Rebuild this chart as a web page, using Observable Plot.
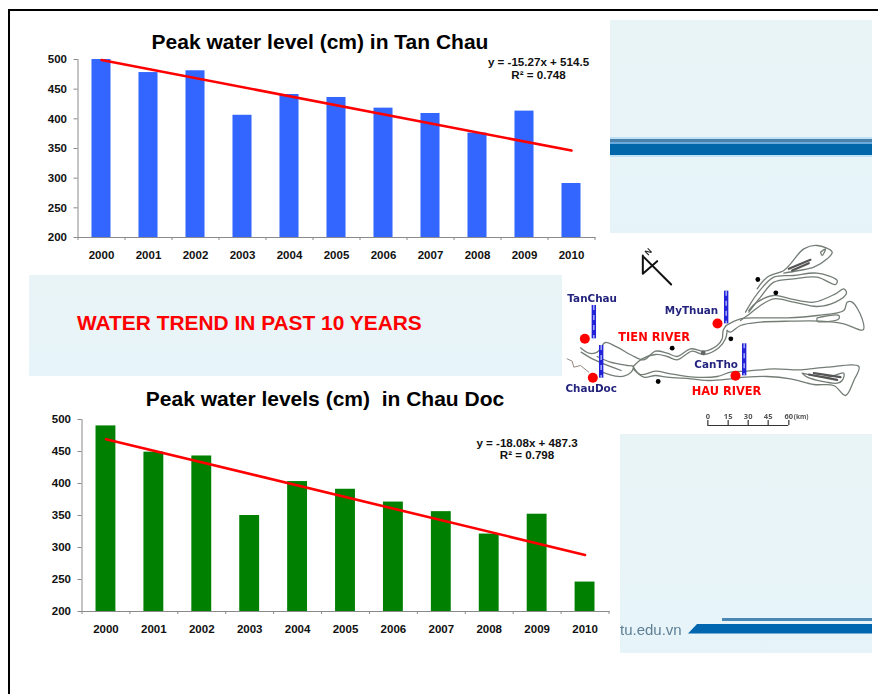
<!DOCTYPE html>
<html>
<head>
<meta charset="utf-8">
<script src="https://cdn.jsdelivr.net/npm/d3@7"></script>
<script src="https://cdn.jsdelivr.net/npm/@observablehq/plot@0.6"></script>
<style>
  html, body { margin: 0; padding: 0; background: #fff; }
  #page { position: relative; width: 878px; height: 694px; overflow: hidden; font-family: "Liberation Sans", Arial, sans-serif; }
  #page > * { position: absolute; }
  .frame-top { left: 8px; right: 0; top: 9px; height: 2px; background: #000; }
  .frame-left { left: 8px; top: 9px; bottom: 0; width: 2px; background: #000; }
  .panel { background: linear-gradient(#e8f4f6, #e8f4f7 60%, #e6f4fa); }
  .title { font-weight: bold; font-size: 21px; color: #000; white-space: pre; transform: translateX(-50%); line-height: 1; }
  .fit { font-weight: bold; font-size: 11.6px; color: #111; white-space: pre; transform: translateX(-50%); line-height: 12.5px; text-align: center; }
  .banner { font-weight: bold; font-size: 20.9px; color: #f00; white-space: pre; line-height: 1; }
  .s { position: absolute; }
  .site { font-size: 15px; color: #5f7f95; filter: blur(.5px); white-space: pre; line-height: 1; }
  svg { display: block; }
</style>
</head>
<body>
<div id="page">
  <div class="frame-top"></div>
  <div class="frame-left"></div>

  <div class="panel" style="left:610px;top:20px;width:262px;height:213px">
    <div class="s" style="left:0;right:0;top:117px;height:20px;background:#bfe0f5"></div>
    <div class="s" style="left:0;right:0;top:119px;height:2.5px;background:#4a80ac"></div>
    <div class="s" style="left:0;right:0;top:121.5px;height:2.5px;background:#6aa9dc"></div>
    <div class="s" style="left:0;right:0;top:124px;height:11px;background:#0066aa"></div>
  </div>

  <div class="panel" style="left:29px;top:275px;width:533px;height:101px"></div>
  <div class="banner" style="left:77px;top:312.5px">WATER TREND IN PAST 10 YEARS</div>

  <div class="panel" style="left:620px;top:434px;width:252px;height:219px">
    <div class="s site" style="left:0;top:187.5px">tu.edu.vn</div>
    <div class="s" style="left:102px;right:0;top:184px;height:3px;background:#4a87b5;filter:blur(.4px)"></div>
    <div class="s" style="left:68px;right:0;top:190px;height:9.5px;background:#0066b0;clip-path:polygon(9px 0,100% 0,100% 100%,0 100%);filter:blur(.3px)"></div>
  </div>

  <div id="chart-tan" style="left:0;top:30px"></div>
  <div id="chart-doc" style="left:0;top:390px"></div>
  <div id="map" style="left:560px;top:230px"></div>

  <div class="title" style="left:320px;top:30.5px">Peak water level (cm) in Tan Chau</div>
  <div class="title" style="left:325px;top:387.5px">Peak water levels (cm)  in Chau Doc</div>
  <div class="fit" style="left:538.5px;top:56px" id="fit-tan"></div>
  <div class="fit" style="left:527px;top:437px;line-height:12px" id="fit-doc"></div>
</div>

<script>
// Peak annual water levels (cm) at the two upstream Mekong gauges
const years = [2000, 2001, 2002, 2003, 2004, 2005, 2006, 2007, 2008, 2009, 2010];
const tanChauPeak = [500, 478, 481, 406, 441, 436, 418, 409, 376, 413, 291];
const chauDocPeak = [490, 449, 443, 350, 403, 391, 371, 356, 321, 352, 246];
const yTicks = [200, 250, 300, 350, 400, 450, 500];

// Published fits: y = slope * x + intercept, x counted from 1 in 2000
const tanChauFit = { slope: -15.27, intercept: 514.5, r2: "0.748" };
const chauDocFit = { slope: -18.08, intercept: 487.3, r2: "0.798" };

// Schematic of the delta, in map grid units
const tienUpper = [[125,345],[135,336],[170,350],[215,375],[250,388],[285,362],[320,368],[350,378],[390,355],[430,362],[470,345],[485,325],[488,300],[497,285]];
const tienLower = [[218,408],[245,385],[285,372],[320,378],[350,388],[395,362],[430,372],[475,352],[495,325],[500,300]];
const westArmUpper = [[60,352],[85,368],[110,365],[125,345]];
const westArmLower = [[62,365],[90,382],[130,400],[182,420]];
const linkCanal = [[110,378],[150,395],[200,405],[218,408],[212,425],[190,437],[165,437],[125,425]];
const hauOutline = [[218,408],[240,432],[285,422],[330,430],[400,440],[470,438],[510,425],[560,422],[640,415],[720,418],[800,410],[895,408],[880,450],[855,495],[820,465],[760,462],[690,445],[620,438],[555,440],[510,445],[450,450],[390,445],[320,440],[285,435],[250,440],[218,415]];
const hauIsland = [[725,428],[800,440],[850,428],[845,450],[830,458],[740,440],[725,428]];
const hauReeds = [[745,432],[830,448]];
const hauReeds2 = [[760,428],[840,440]];
const hamLuong = [[497,285],[540,265],[600,262],[680,262],[770,255],[850,240],[860,215],[875,215],[905,265],[908,298],[850,280],[780,272],[690,272],[600,275],[540,285],[510,305],[500,300]];
const hamLuongIsland = [[770,262],[835,255],[835,265],[770,272],[770,262]];
const coChien = [[565,240],[590,215],[640,195],[690,205],[760,215],[825,190],[850,175],[858,188],[825,215],[770,228],[700,215],[640,205],[600,225],[570,248],[540,270]];
const myTho = [[555,245],[590,190],[640,140],[700,135],[770,128],[830,150],[825,162],[770,140],[700,145],[640,155],[600,200],[565,245]];
const baLai = [[590,175],[620,140],[670,120],[690,100],[730,55],[770,45],[815,65],[800,85],[760,110],[715,120],[670,128]];
const baLaiLoop = [[780,65],[795,55],[785,75],[780,65]];
const baLaiReeds = [[685,115],[750,88]];
const baLaiReeds2 = [[695,120],[745,98]];
const borderStream = [[20,385],[35,392],[40,410],[60,405],[85,425]];
const riverPaths = [tienUpper, tienLower, westArmUpper, westArmLower, linkCanal, hauOutline, hauIsland, hamLuong, hamLuongIsland, coChien, myTho, baLai, baLaiLoop];
const reedPaths = [hauReeds, hauReeds2, baLaiReeds, baLaiReeds2];

const towns = [
  { name: "TanChau", x: 73, y: 325, lx: 95, ly: 205, bar: [100, 225, 325] },
  { name: "ChauDoc", x: 97, y: 442, lx: 92, ly: 475, bar: [122, 345, 443] },
  { name: "MyThuan", x: 471, y: 279, lx: 393, ly: 240, bar: [497, 182, 280] },
  { name: "CanTho", x: 525, y: 436, lx: 467, ly: 403, bar: [551, 340, 436] }
];
const riverNames = [{ name: "TIEN RIVER", x: 281, y: 320 }, { name: "HAU RIVER", x: 498, y: 482 }];
const cityDots = [[592,147],[646,187],[511,325],[335,353],[293,453]];
const grayDot = [[428,367]];
const northArrow = [[247,75],[247,130],[290,92]];
const northShaft = [[250,80],[332,162]];
const scaleKm = [0, 15, 30, 45, 60];
const scalePos = [442, 503, 563, 623, 685];

function trendLine(fit) {
  const n = years.length;
  return [
    { year: years[0], v: fit.slope * 1 + fit.intercept },
    { year: years[n - 1], v: fit.slope * n + fit.intercept }
  ];
}

function peakChart(el, values, fit, color, g) {
  const step = g.plotW / years.length;
  const rows = years.map((year, i) => ({ year, v: values[i] }));
  const tickDepth = 3 * 300 / g.plotH;
  const plot = Plot.plot({
    width: g.left + g.plotW + 8,
    height: g.top + g.plotH + 30,
    marginLeft: g.left,
    marginRight: 8,
    marginTop: g.top,
    marginBottom: 30,
    style: { background: "transparent", fontFamily: "'Liberation Sans', Arial, sans-serif" },
    x: { type: "band", domain: years, paddingInner: g.pad, paddingOuter: g.pad / 2, round: false, axis: null },
    y: { domain: [200, 500], axis: null },
    marks: [
      Plot.barY(rows, { x: "year", y1: 200, y2: "v", fill: color }),
      Plot.frame({ anchor: "left", stroke: "#8a8a8a" }),
      Plot.frame({ anchor: "bottom", stroke: "#8a8a8a" }),
      Plot.ruleX(years, { x: d => d, y1: 200, y2: 200 - tickDepth, dx: -step / 2, stroke: "#8a8a8a" }),
      Plot.ruleX(years.slice(-1), { x: d => d, y1: 200, y2: 200 - tickDepth, dx: step / 2, stroke: "#8a8a8a" }),
      Plot.axisY({ ticks: yTicks, tickSize: 4, tickPadding: 7, stroke: "#8a8a8a", color: "#111", fontSize: 11.5, fontWeight: "bold", label: null }),
      Plot.text(rows, { x: "year", text: d => String(d.year), frameAnchor: "bottom", dy: g.labelDy, fontSize: 11.5, fontWeight: "bold", fill: "#111" }),
      Plot.line(trendLine(fit), { x: "year", y: "v", stroke: "#f00", strokeWidth: 2.6 })
    ]
  });
  document.getElementById(el).append(plot);
}

peakChart("chart-tan", tanChauPeak, tanChauFit, "#3366ff", { left: 77.5, top: 29, plotW: 517, plotH: 178, pad: 0.595, labelDy: 21 });
peakChart("chart-doc", chauDocPeak, chauDocFit, "#008000", { left: 81.5, top: 29, plotW: 527, plotH: 192, pad: 0.585, labelDy: 21 });

document.getElementById("fit-tan").innerText = `y = ${tanChauFit.slope}x + ${tanChauFit.intercept}\nR² = ${tanChauFit.r2}`;
document.getElementById("fit-doc").innerText = `y = ${chauDocFit.slope}x + ${chauDocFit.intercept}\nR² = ${chauDocFit.r2}`;

// Delta map: grid units run 954 across and 630 down
const px = d => d[0], py = d => d[1];
const bars = towns.map(t => ({ x: t.bar[0], y1: t.bar[1], y2: t.bar[2] }));
const map = Plot.plot({
  width: 318,
  height: 210,
  margin: 0,
  style: { background: "transparent", overflow: "visible", filter: "blur(0.35px)" },
  x: { domain: [0, 954], axis: null },
  y: { domain: [630, 0], axis: null },
  marks: [
    ...riverPaths.map(p => Plot.line(p, { x: px, y: py, curve: "catmull-rom", stroke: "#737d75", strokeWidth: 1.3 })),
    ...reedPaths.map(p => Plot.line(p, { x: px, y: py, stroke: "#555", strokeWidth: 2.2 })),
    Plot.line(borderStream, { x: px, y: py, stroke: "#8a7a72", strokeWidth: 0.9 }),
    Plot.ruleX(bars, { x: "x", y1: "y1", y2: "y2", stroke: "#2222d8", strokeWidth: 4.4 }),
    Plot.ruleX(bars, { x: "x", y1: "y1", y2: "y2", stroke: "#c8d0ff", strokeWidth: 1.2, strokeDasharray: "5,5" }),
    Plot.dot(towns, { x: "x", y: "y", r: 5, fill: "#f00" }),
    Plot.dot(cityDots, { x: px, y: py, r: 2.4, fill: "#000" }),
    Plot.dot(grayDot, { x: px, y: py, r: 2.4, fill: "#666" }),
    Plot.text(towns, { x: "lx", y: "ly", text: "name", fill: "#24247e", fontFamily: "'DejaVu Sans'", fontWeight: "bold", fontSize: 10.4, letterSpacing: 0.8 }),
    Plot.text(riverNames, { x: "x", y: "y", text: "name", fill: "#f00", fontFamily: "'DejaVu Sans'", fontWeight: "bold", fontSize: 11.4 }),
    Plot.line(northArrow, { x: px, y: py, stroke: "#111", strokeWidth: 2 }),
    Plot.line(northShaft, { x: px, y: py, stroke: "#111", strokeWidth: 2 }),
    Plot.text(["N"], { x: 264, y: 64, rotate: -45, fontSize: 8, fontWeight: "bold", fill: "#222" }),
    Plot.ruleY([585], { x1: 442, x2: 685, stroke: "#333", strokeWidth: 1.2 }),
    Plot.ruleX(scalePos, { x: d => d, y1: 570, y2: 585, stroke: "#333", strokeWidth: 1.2 }),
    Plot.text(scaleKm, { x: (d, i) => scalePos[i], y: 558, text: d => String(d), fontSize: 7.5, fontWeight: "bold", fill: "#555" }),
    Plot.text(["(km)"], { x: 722, y: 558, fontSize: 6.5, fontWeight: "bold", fill: "#555" })
  ]
});
document.getElementById("map").append(map);
</script>
</body>
</html>
